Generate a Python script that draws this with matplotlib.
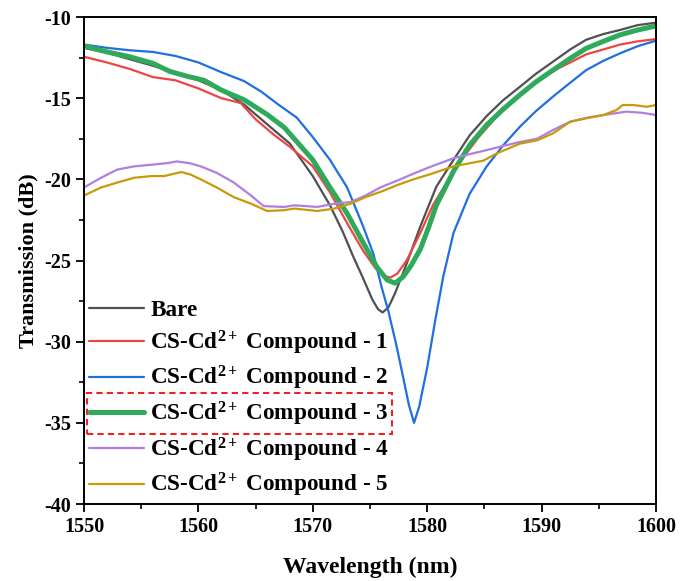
import matplotlib
matplotlib.use("Agg")
import matplotlib.pyplot as plt
from matplotlib.patches import Rectangle
from matplotlib.ticker import MultipleLocator

plt.rcParams['font.family'] = ['Liberation Serif', 'DejaVu Serif']
plt.rcParams['font.weight'] = 'bold'
plt.rcParams['axes.unicode_minus'] = False
plt.rcParams['mathtext.fontset'] = 'custom'
plt.rcParams['mathtext.rm'] = 'Liberation Serif:bold'
plt.rcParams['mathtext.bf'] = 'Liberation Serif:bold'
plt.rcParams['mathtext.it'] = 'Liberation Serif:bold:italic'
plt.rcParams['mathtext.default'] = 'rm'

# ---- data ----
bare_x = [1550, 1552, 1554, 1556, 1558, 1560, 1562, 1564, 1566, 1568, 1570, 1571.5, 1572.6,
          1573.5, 1574.4, 1575.2, 1575.7, 1576.1, 1576.6, 1577.2, 1578.2, 1579.4, 1580.8,
          1582.3, 1583.7, 1585.2, 1586.6, 1588.1, 1589.5, 1591, 1592.5, 1593.9, 1595.4,
          1596.85, 1598.4, 1600]
bare_y = [-11.9, -12.2, -12.6, -13.0, -13.45, -13.9, -14.5, -15.4, -16.6, -17.8, -19.8, -21.6,
          -23.2, -24.7, -26.1, -27.4, -28.0, -28.2, -27.9, -27.0, -25.2, -22.9, -20.45,
          -18.8, -17.3, -16.1, -15.15, -14.3, -13.5, -12.75, -12.0, -11.4, -11.05,
          -10.8, -10.5, -10.35]

c1_x = [1550, 1552, 1554, 1556, 1558, 1560, 1562, 1563.7, 1565, 1566.5, 1568, 1570, 1571.5,
        1573, 1574.4, 1575.5, 1576.2, 1576.8, 1577.4, 1578.2, 1579.4, 1580.5, 1581.7, 1583,
        1584.5, 1586, 1588.1, 1590, 1591.5, 1592.5, 1593.9, 1595.4, 1596.85, 1598.4, 1600]
c1_y = [-12.45, -12.8, -13.2, -13.7, -13.9, -14.4, -15.0, -15.3, -16.3, -17.2, -18.0, -19.2,
        -20.8, -22.7, -24.4, -25.5, -25.95, -26.05, -25.8, -25.0, -23.3, -21.6, -20.2, -18.8,
        -17.4, -16.2, -14.85, -13.75, -13.15, -12.8, -12.3, -12.0, -11.7, -11.5, -11.36]

c2_x = [1550, 1552, 1554, 1556, 1558, 1560, 1562, 1564, 1565.5, 1567, 1568.6, 1570, 1571.5,
        1573, 1574.4, 1575.3, 1576.0, 1576.6, 1577.3, 1577.9, 1578.4, 1578.85, 1579.3, 1580.0,
        1580.7, 1581.4, 1582.3, 1583.7, 1585.2, 1586.65, 1588.1, 1589.5, 1591, 1592.5, 1593.9,
        1595.4, 1596.85, 1598.4, 1600]
c2_y = [-11.7, -11.9, -12.05, -12.15, -12.4, -12.8, -13.4, -13.95, -14.6, -15.4, -16.2, -17.4,
        -18.8, -20.5, -22.9, -24.6, -26.6, -28.1, -30.2, -32.2, -33.9, -35.0, -34.0, -31.6,
        -28.7, -26.0, -23.3, -20.9, -19.2, -17.9, -16.76, -15.8, -14.9, -14.05, -13.27,
        -12.7, -12.24, -11.8, -11.46]

c3_x = [1550, 1552, 1554, 1556, 1557.5, 1559, 1560.5, 1562, 1564, 1566, 1567.5, 1569, 1570,
        1571.5, 1573, 1574.4, 1575.6, 1576.5, 1577.2, 1577.9, 1578.6, 1579.4, 1580.1, 1580.8,
        1582.3, 1583.7, 1585.2, 1586.6, 1588.1, 1589.5, 1591, 1592.5, 1593.9, 1595.4, 1596.85,
        1598.4, 1600]
c3_y = [-11.8, -12.15, -12.45, -12.85, -13.35, -13.65, -13.9, -14.5, -15.1, -16.0, -16.8,
        -18.0, -18.8, -20.5, -22.1, -23.9, -25.4, -26.2, -26.4, -26.0, -25.3, -24.3, -23.0,
        -21.6, -19.5, -17.9, -16.65, -15.7, -14.8, -14.0, -13.27, -12.55, -11.93, -11.5, -11.1,
        -10.8, -10.55]

c4_x = [1550, 1551.5, 1552.9, 1554.4, 1555.9, 1557.3, 1558.1, 1559.2, 1560.2, 1561.6, 1563.1,
        1564.6, 1565.7, 1567.5, 1568.4, 1570.4, 1571.9, 1573.3, 1574.6, 1575.9, 1577.3, 1578.8,
        1580.2, 1582.3, 1583.7, 1585.2, 1586.6, 1588.1, 1589.6, 1591, 1592.5, 1594, 1595.4,
        1597.4, 1598.8, 1600]
c4_y = [-20.5, -19.9, -19.4, -19.2, -19.1, -19.0, -18.9, -19.0, -19.2, -19.6, -20.2,
        -21.0, -21.65, -21.7, -21.6, -21.7, -21.5, -21.4, -21.0, -20.5, -20.1, -19.65,
        -19.25, -18.7, -18.45, -18.2, -17.95, -17.7, -17.5, -16.96, -16.45, -16.2, -16.04,
        -15.83, -15.9, -16.04]

c5_x = [1550, 1551.5, 1552.9, 1554.4, 1555.9, 1557, 1558.5, 1559.3, 1560.2, 1561.6, 1563.1,
        1564.6, 1566, 1567.5, 1568.4, 1570.4, 1571.9, 1573.3, 1574.6, 1576, 1577.4, 1578.8,
        1580.2, 1582.3, 1584.9, 1586.1, 1588.1, 1589.6, 1591, 1592.5, 1593.9, 1595.4, 1596.55,
        1597.1, 1598, 1599.2, 1600]
c5_y = [-21.0, -20.5, -20.2, -19.9, -19.8, -19.8, -19.55, -19.7, -20.0, -20.5, -21.1,
        -21.5, -21.95, -21.9, -21.8, -21.95, -21.8, -21.5, -21.1, -20.75, -20.35, -20.0,
        -19.7, -19.2, -18.85, -18.4, -17.8, -17.6, -17.17, -16.45, -16.24, -16.04, -15.73,
        -15.42, -15.42, -15.53, -15.42]

labels = ['Bare',
          'CS-Cd$^{2+}$ Compound - 1',
          'CS-Cd$^{2+}$ Compound - 2',
          'CS-Cd$^{2+}$ Compound - 3',
          'CS-Cd$^{2+}$ Compound - 4',
          'CS-Cd$^{2+}$ Compound - 5']
xticks = [1550, 1560, 1570, 1580, 1590, 1600]
yticks = [-40, -35, -30, -25, -20, -15, -10]

# ---- figure ----
fig = plt.figure(figsize=(6.91, 5.81), dpi=100)
ax = fig.add_axes([84/691, 1-504/581, (656-84)/691, (504-17)/581])

series = [(bare_x, bare_y, '#505050', 1.6),
          (c1_x, c1_y, '#EE4444', 1.6),
          (c2_x, c2_y, '#1F6FE0', 1.6),
          (c3_x, c3_y, '#2EAA5A', 3.6),
          (c4_x, c4_y, '#B07EE0', 1.6),
          (c5_x, c5_y, '#C89A0A', 1.6)]
for (xs, ys, col, lw), lab in zip(series, labels):
    ax.plot(xs, ys, color=col, lw=lw, label=lab, solid_joinstyle='round',
            solid_capstyle='round')

ax.set_xlim(1550, 1600)
ax.set_ylim(-40, -10)
ax.set_xticks(xticks)
ax.set_yticks(yticks)
ax.xaxis.set_minor_locator(MultipleLocator(5))
ax.yaxis.set_minor_locator(MultipleLocator(2.5))
ax.tick_params(which='major', direction='out', length=6, width=1.3, labelsize=14.5)
ax.tick_params(which='minor', direction='out', length=3.5, width=1.2)
for lab in ax.get_xticklabels() + ax.get_yticklabels():
    lab.set_fontweight('bold')
for s in ax.spines.values():
    s.set_linewidth(1.4)

ax.set_xlabel('Wavelength (nm)', fontsize=17, fontweight='bold', labelpad=14)
ax.set_ylabel('Transmission (dB)', fontsize=16, fontweight='bold', labelpad=4)

leg = ax.legend(loc='lower left', bbox_to_anchor=(0.0, 0.0), frameon=False,
                prop={'size': 16.7, 'weight': 'bold'}, handlelength=2.4,
                handletextpad=0.25, labelspacing=0.32, borderpad=0.1, borderaxespad=0.1)

rect = Rectangle((87/691, 1-434/581), 305/691, 41/581, transform=fig.transFigure,
                 fill=False, edgecolor='#EE2222', lw=1.5, linestyle=(0, (3, 2)))
fig.patches.append(rect)

fig.savefig('out.png', dpi=100)
